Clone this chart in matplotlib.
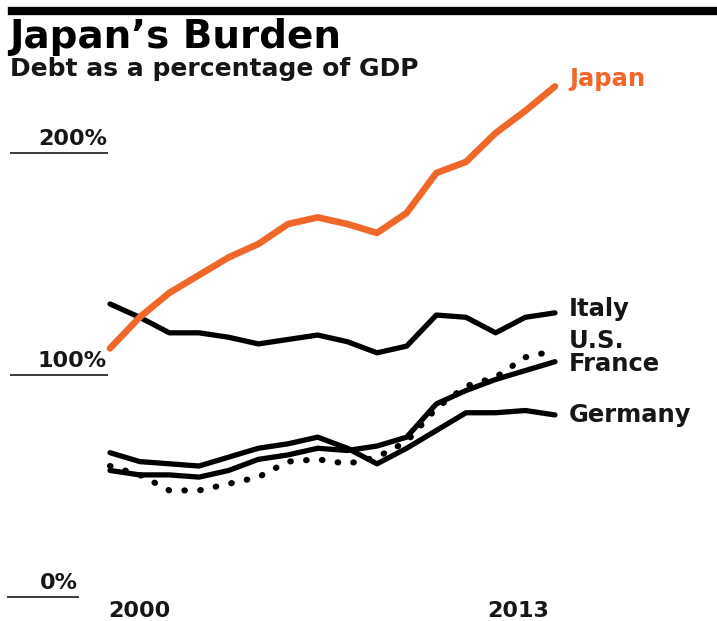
import numpy as np
import matplotlib
matplotlib.use("Agg")
from matplotlib import pyplot as plt

years = list(range(1999, 2015))
japan   = [112, 126, 137, 145, 153, 159, 168, 171, 168, 164, 173, 191, 196, 209, 219, 230]
italy   = [132, 126, 119, 119, 117, 114, 116, 118, 115, 110, 113, 127, 126, 119, 126, 128]
us      = [59, 55, 48, 48, 51, 54, 61, 62, 60, 63, 70, 85, 95, 99, 108, 111]
france  = [57, 55, 55, 54, 57, 62, 64, 67, 66, 68, 72, 87, 93, 98, 102, 106]
germany = [65, 61, 60, 59, 63, 67, 69, 72, 67, 60, 67, 75, 83, 83, 84, 82]
y_ticks = [0, 100, 200]
x_labels = [2000, 2013]

W, H = 717, 621
ORANGE = '#f0672a'
INK = '#161616'
plt.rcParams['font.family'] = 'DejaVu Sans'

fig = plt.figure(figsize=(W / 100, H / 100), dpi=100)

def fx(px):
    return px / W

def fy(py):
    return 1 - py / H

# plot area: 1999 at x=110px, 2014 at x=555px; 0% at y=597px, 200% at y=153px
ax = fig.add_axes([fx(110), fy(597), fx(555) - fx(110), fy(153) - fy(597)])
ax.set_xlim(1999, 2014)
ax.set_ylim(0, 200)
ax.axis('off')

# top rule + headings
fig.add_artist(plt.Line2D([fx(12), 1], [fy(11), fy(11)], color='black', lw=6))
fig.text(fx(9), fy(48), "Japan\u2019s Burden", fontsize=28, fontweight='bold', color='black')
fig.text(fx(10), fy(76), "Debt as a percentage of GDP", fontsize=18, fontweight='bold', color=INK)

# y "ticks": short rules with labels on top
ytr = ax.get_yaxis_transform()
for v in y_ticks:
    x0, x1 = (-0.223, -0.007) if v else (-0.229, -0.072)
    ax.plot([x0, x1], [v, v], transform=ytr, color='#3a3a3a', lw=1.4, clip_on=False)
    ax.annotate(f"{v}%", xy=(x1, v), xycoords=ytr, xytext=(0, 6), textcoords='offset points',
                ha='right', va='baseline', fontsize=16, fontweight='bold', color=INK)

for yr, dx in zip(x_labels, [0, -5]):
    ax.annotate(str(yr), xy=(yr, 0), xytext=(dx, -10), textcoords='offset points',
                ha='center', va='center', fontsize=16, fontweight='bold', color=INK,
                annotation_clip=False)

kw = dict(solid_capstyle='round', solid_joinstyle='round', clip_on=False)
ax.plot(years, germany, color='black', lw=3.8, **kw)
ax.plot(years, france, color='black', lw=3.8, **kw)
ax.plot(years, us, color='black', lw=4.4, linestyle=(0, (0.1, 2.5)),
        dash_capstyle='round', clip_on=False)
ax.plot(years, italy, color='black', lw=3.8, **kw)
ax.plot(years, japan, color=ORANGE, lw=4.8, **kw)

labels = [("Japan", japan, 5, ORANGE), ("Italy", italy, 3, INK), ("U.S.", us, 7, INK),
          ("France", france, -2, INK), ("Germany", germany, 0, INK)]
for name, vals, dy, col in labels:
    ax.annotate(name, xy=(years[-1], vals[-1]), xytext=(10, dy), textcoords='offset points',
                ha='left', va='center', fontsize=17.5, fontweight='bold', color=col,
                annotation_clip=False)

fig.savefig('out.png', dpi=100, facecolor='white')
